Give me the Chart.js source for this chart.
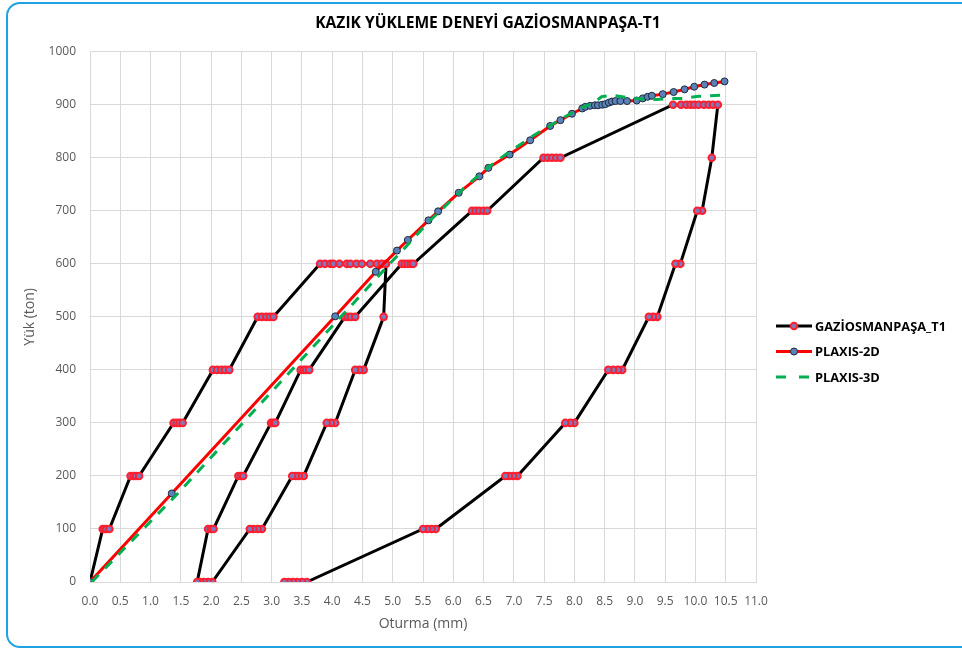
<!DOCTYPE html>
<html>
<head>
<meta charset="utf-8">
<title>Kazık yükleme deneyi</title>
<script src="https://cdn.jsdelivr.net/npm/chart.js@4.4.1/dist/chart.umd.min.js"></script>
<style>
  html, body { margin: 0; padding: 0; background: #fff; overflow: hidden; }
  #wrap { position: relative; width: 962px; height: 652px; }
  #wrap canvas { position: absolute; left: 0; top: 0; }
  #frame {
    position: absolute; left: 6px; top: 2px; width: 990px; height: 642px;
    border: 2px solid #1fa2e4; border-radius: 14px; pointer-events: none;
  }
</style>
</head>
<body>
<div id="wrap">
  <canvas id="chart" width="962" height="652"></canvas>
  <div id="frame"></div>
</div>
<script>
// load test readings: settlement (mm) and load (ton), in reading order
var testSettlement = [0,
  0.21, 0.24, 0.27, 0.32,
  0.67, 0.72, 0.76, 0.81,
  1.38, 1.43, 1.48, 1.53,
  2.03, 2.10, 2.17, 2.23, 2.30,
  2.77, 2.84, 2.91, 2.97, 3.03,
  3.80, 3.88, 3.97, 4.02, 4.12, 4.24, 4.30, 4.40, 4.49, 4.63, 4.74, 4.82, 4.89,
  4.85,
  4.52, 4.45, 4.38,
  4.05, 3.98, 3.91,
  3.53, 3.45, 3.40, 3.34,
  2.84, 2.77, 2.70, 2.64,
  2.02, 1.95, 1.88, 1.82, 1.77,
  1.95, 2.00, 2.04,
  2.45, 2.49, 2.53,
  2.99, 3.03, 3.06,
  3.48, 3.53, 3.57, 3.62,
  4.21, 4.26, 4.31, 4.38,
  5.15, 5.20, 5.25, 5.30, 5.34,
  6.31, 6.37, 6.43, 6.50, 6.56,
  7.49, 7.56, 7.63, 7.70, 7.77,
  9.63, 9.76, 9.85, 9.92, 9.98, 10.05, 10.14, 10.22, 10.29, 10.37,
  10.27,
  10.11, 10.03,
  9.75, 9.67,
  9.37, 9.30, 9.23,
  8.79, 8.72, 8.64, 8.56,
  8.00, 7.93, 7.85,
  7.06, 6.99, 6.92, 6.86,
  5.71, 5.64, 5.57, 5.50,
  3.58, 3.50, 3.42, 3.35, 3.28, 3.21];
var testLoad = [0,
  100, 100, 100, 100,
  200, 200, 200, 200,
  300, 300, 300, 300,
  400, 400, 400, 400, 400,
  500, 500, 500, 500, 500,
  600, 600, 600, 600, 600, 600, 600, 600, 600, 600, 600, 600, 600,
  500,
  400, 400, 400,
  300, 300, 300,
  200, 200, 200, 200,
  100, 100, 100, 100,
  0, 0, 0, 0, 0,
  100, 100, 100,
  200, 200, 200,
  300, 300, 300,
  400, 400, 400, 400,
  500, 500, 500, 500,
  600, 600, 600, 600, 600,
  700, 700, 700, 700, 700,
  800, 800, 800, 800, 800,
  900, 900, 900, 900, 900, 900, 900, 900, 900, 900,
  800,
  700, 700,
  600, 600,
  500, 500, 500,
  400, 400, 400, 400,
  300, 300, 300,
  200, 200, 200, 200,
  100, 100, 100, 100,
  0, 0, 0, 0, 0, 0];

// PLAXIS-2D model curve
var plaxis2dSettlement = [0, 1.35, 4.05, 4.72, 5.07, 5.25, 5.59, 5.75, 6.09, 6.43, 6.58, 6.93,
  7.27, 7.60, 7.77, 7.96, 8.13, 8.18, 8.26, 8.34, 8.39, 8.46, 8.51, 8.57, 8.62, 8.68,
  8.76, 8.87, 9.03, 9.13, 9.21, 9.28, 9.46, 9.64, 9.82, 9.98, 10.15, 10.31, 10.48];
var plaxis2dLoad = [0, 167, 501, 585, 625, 645, 682, 699, 734, 765, 781, 806,
  833, 860, 871, 883, 893, 896, 898, 899, 899, 900, 901, 904, 906, 907,
  907, 907, 908, 912, 915, 917, 920, 924, 929, 934, 938, 941, 944];

// PLAXIS-3D model curve
var plaxis3dSettlement = [0.03, 1.45, 4.15, 4.95, 5.20, 5.60, 5.85, 6.15, 6.50, 6.85, 7.30,
  7.75, 8.10, 8.30, 8.45, 8.62, 8.85, 9.10, 9.35, 9.60, 9.80, 10.05, 10.25, 10.45];
var plaxis3dLoad = [0, 167, 501, 600, 630, 680, 707, 740, 775, 805, 840,
  871, 894, 902, 915, 918, 914, 911, 910, 912, 912, 916, 917, 918];

var seriesNames = ['GAZİOSMANPAŞA_T1', 'PLAXIS-2D', 'PLAXIS-3D'];

var FONT = "'Open Sans', 'Liberation Sans', sans-serif";

function pairs(xs, ys) {
  return xs.map(function (x, i) { return { x: x, y: ys[i] }; });
}

// legend on the right: line sample, marker, bold name
var sideLegend = {
  id: 'sideLegend',
  afterDraw: function (chart) {
    var c = chart.ctx;
    var x0 = chart.chartArea.right + 20;
    chart.data.datasets.forEach(function (ds, i) {
      var y = 326 + i * 25.5;
      c.save();
      c.strokeStyle = ds.borderColor;
      c.lineWidth = ds.borderWidth;
      c.setLineDash(ds.legendDash || []);
      c.beginPath();
      c.moveTo(x0, y);
      c.lineTo(x0 + 36, y);
      c.stroke();
      c.setLineDash([]);
      if (ds.pointRadius > 0) {
        c.beginPath();
        c.arc(x0 + 18, y, ds.pointRadius, 0, Math.PI * 2);
        c.fillStyle = ds.pointBackgroundColor;
        c.fill();
        c.lineWidth = ds.pointBorderWidth;
        c.strokeStyle = ds.pointBorderColor;
        c.stroke();
      }
      c.fillStyle = '#000';
      c.font = 'bold 12.8px ' + FONT;
      c.textAlign = 'left';
      c.textBaseline = 'middle';
      c.fillText(ds.label, x0 + 39, y + 1);
      c.restore();
    });
  }
};

var ctx = document.getElementById('chart');

var myChart = new Chart(ctx, {
  type: 'scatter',
  data: {
    datasets: [{
      label: seriesNames[0],
      data: pairs(testSettlement, testLoad),
      showLine: true,
      borderColor: '#000000',
      borderWidth: 3,
      pointRadius: 3.3,
      pointBackgroundColor: '#7f78bd',
      pointBorderColor: '#ff1f2f',
      pointBorderWidth: 2,
      order: 3
    }, {
      label: seriesNames[1],
      data: pairs(plaxis2dSettlement, plaxis2dLoad),
      showLine: true,
      borderColor: '#ff0000',
      borderWidth: 3,
      pointRadius: 3.5,
      pointBackgroundColor: '#5a82b8',
      pointBorderColor: '#1c2a3a',
      pointBorderWidth: 1,
      order: 2
    }, {
      label: seriesNames[2],
      data: pairs(plaxis3dSettlement, plaxis3dLoad),
      showLine: true,
      borderColor: '#00b050',
      borderWidth: 3,
      borderDash: [10, 9],
      legendDash: [10, 13],
      pointRadius: 0,
      order: 1
    }]
  },
  options: {
    responsive: false,
    animation: false,
    events: [],
    layout: { padding: { left: 14, right: 0, top: 0, bottom: 0 } },
    plugins: {
      legend: { display: false },
      tooltip: { enabled: false },
      title: {
        display: true,
        text: 'KAZIK YÜKLEME DENEYİ GAZİOSMANPAŞA-T1',
        color: '#000',
        font: { family: FONT, size: 15.6, weight: 'bold' },
        padding: { top: 14, bottom: 19 }
      }
    },
    scales: {
      x: {
        type: 'linear',
        min: 0,
        max: 11,
        ticks: {
          stepSize: 0.5,
          autoSkip: false,
          maxRotation: 0,
          padding: 12,
          color: '#595959',
          font: { family: FONT, size: 12 },
          callback: function (v) { return v.toFixed(1); }
        },
        grid: { color: '#d9d9d9', drawTicks: false },
        border: { color: '#d9d9d9' },
        title: {
          display: true,
          text: 'Oturma (mm)',
          color: '#595959',
          font: { family: FONT, size: 14 },
          padding: { top: 0, bottom: 20 }
        },
        afterFit: function (s) { s.height = 70; }
      },
      y: {
        type: 'linear',
        min: 0,
        max: 1000,
        ticks: {
          stepSize: 100,
          padding: 14,
          color: '#595959',
          font: { family: FONT, size: 12 },
          callback: function (v) { return String(v); }
        },
        grid: { color: '#d9d9d9', drawTicks: false },
        border: { color: '#d9d9d9' },
        title: {
          display: true,
          text: 'Yük (ton)',
          color: '#595959',
          font: { family: FONT, size: 14 },
          padding: { top: 8, bottom: 0 }
        },
        afterFit: function (s) { s.width = 76; }
      },
      // empty column that keeps room for the legend
      spacer: {
        type: 'linear',
        position: 'right',
        grid: { display: false },
        border: { display: false },
        ticks: { display: false },
        afterFit: function (s) { s.width = 206; }
      }
    }
  },
  plugins: [sideLegend]
});
</script>
</body>
</html>
